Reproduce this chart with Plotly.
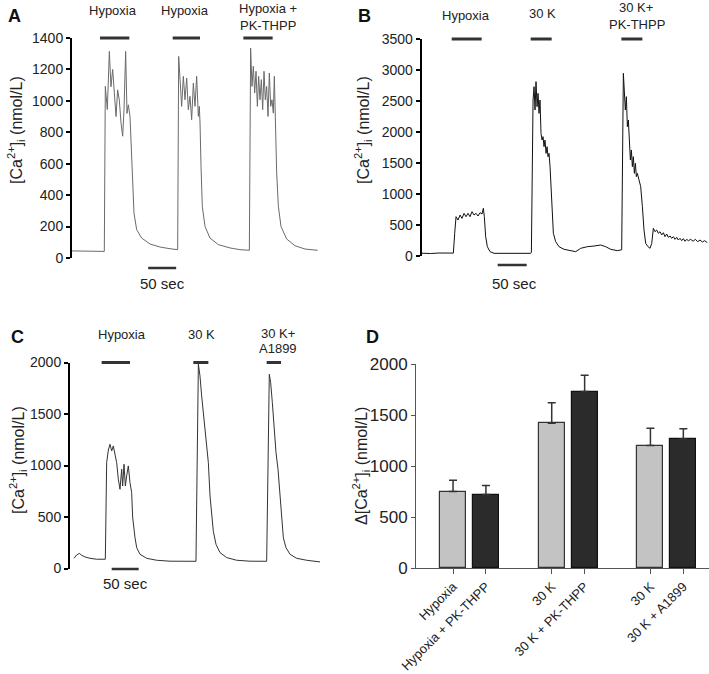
import plotly.graph_objects as go

# ---------------- data ----------------
# Panel A: time (s) and [Ca2+]i (nmol/L)
A_time = [0, 15, 30, 45, 57.7, 59.5, 63.1, 66.7, 69.6, 72.6, 75.6, 78.6, 81.5, 84.5, 87.5, 90.5, 92.9, 95.8,
          98.2, 100.6, 103.6, 105.4, 107.7, 110.7, 115.5, 124.4, 139.3, 157.1, 175, 188.7,
          190.5, 192.9, 195.8, 198.8, 201.8, 204.8, 207.7, 210.7, 213.7, 216.7, 219.6, 222.6, 225.6, 227.4,
          228.6, 230.4, 232.7, 237.5, 246.4, 261.3, 282.1, 300, 316.7,
          319, 321.4, 323.8, 326.2, 328.6, 331, 333.3, 335.7, 338.1, 340.5, 342.9, 345.2, 347.6, 350, 352.4,
          354.8, 357.1, 359.5, 361.3, 363.1, 365.5, 368.5, 373.2, 383.3, 398.2, 416.1, 438.7]
A_ca = [45, 44, 46, 43, 42, 1092, 945, 1315, 1090, 1200, 1050, 900, 1070, 1005, 860, 775, 945, 1315,
        920, 975, 900, 750, 477, 286, 180, 127, 89, 70, 59, 53,
        1283, 1113, 965, 1156, 1007, 1145, 944, 1029, 880, 1113, 965, 1156, 901, 965,
        859, 583, 329, 201, 127, 85, 64, 53, 49,
        1336, 1092, 1220, 1050, 1188, 965, 1156, 1007, 1135, 944, 1188, 1007, 1092, 901, 1177,
        965, 1007, 922, 1156, 795, 541, 329, 201, 121, 78, 57, 49]
A_stim_on = [50, 179.8, 306]
A_stim_off = [102.4, 228.6, 358.3]
A_yticks = [0, 200, 400, 600, 800, 1000, 1200, 1400]

# Panel B
B_time = [0, 15, 30, 45, 54.6, 56.9, 59.2, 62.6, 66.1, 69.5, 73, 76.4, 79.9, 83.3, 86.8, 90.2, 93.7, 97.1,
          100.6, 104, 106.3, 108, 110.3, 113.2, 117.8, 124.7, 142, 159.2, 175, 187.9,
          189.1, 192, 193.7, 195.4, 197.1, 198.9, 200.6, 202.3, 204, 205.7, 207.5, 209.2, 210.9, 212.6,
          214.4, 216.1, 217.8, 219.5, 221.3, 223, 224.7, 227, 231, 236.8, 245.4, 256.9, 265.5,
          274.1, 285.6, 297.1, 308.6, 317.2, 325.9, 337.4, 343.1,
          344.8, 347.7, 349.4, 351.1, 352.9, 354.6, 356.3, 358, 359.8, 361.5, 363.2, 364.9, 366.7, 368.4,
          370.1, 371.8, 374.7, 377.6, 380.5, 383.3, 386.2, 390.2, 393.7, 396.6, 399.4, 402.3, 405.2, 408,
          410.9, 413.8, 416.7, 419.5, 422.4, 425.3, 428.2, 431, 433.9, 436.8, 439.7, 442.5, 445.4, 448.3,
          451.1, 454, 456.9, 459.8, 463.8, 467.8, 471.8, 475.9, 479.9, 483.9, 487.9, 492.5]
B_ca = [45, 40, 48, 42, 47, 366, 634, 580, 661, 607, 688, 634, 688, 634, 715, 661, 688, 645,
        699, 677, 769, 634, 312, 150, 70, 43, 45, 50, 42, 43,
        60, 2516, 2731, 2355, 2812, 2408, 2623, 2301, 2516, 1978, 1871, 1925, 1763, 1871,
        1656, 1763, 1602, 1656, 1441, 1118, 634, 366, 231, 150, 108, 86, 70,
        124, 150, 161, 177, 150, 108, 86, 97,
        100, 2946, 2704, 2355, 2570, 2086, 2193, 1817, 1548, 1710, 1441, 1602, 1333, 1495,
        1280, 1333, 1226, 1118, 796, 419, 204, 150, 124, 204, 446, 392, 419, 366,
        392, 339, 376, 312, 355, 301, 323, 285, 312, 269, 301, 258, 285, 247,
        280, 237, 269, 247, 269, 237, 269, 231, 258, 226, 247, 215]
B_stim_on = [51.7, 187.9, 344.3]
B_stim_off = [103.4, 224.1, 380.5]
B_yticks = [0, 500, 1000, 1500, 2000, 2500, 3000, 3500]

# Panel C
C_time = [7.4, 12.3, 17.3, 21.6, 27.8, 37, 49.4, 64.2, 65.4, 67.9, 71, 74.1, 77.2, 80.2, 83.3, 86.4, 89.5,
          92.6, 95.7, 97.5, 100, 102.5, 104.9, 108, 111.1, 114.2, 116, 118, 120.4, 123.5, 129.6, 142,
          160.5, 185.2, 209.9, 232.1, 233.3, 237.7, 240.7, 243.8, 246.9, 250, 253.1, 256.2, 259.3,
          262.3, 265.4, 270.4, 277.8, 290.1, 308.6, 333.3, 363, 364.2, 369.1, 371.6, 374.7, 377.8,
          381.5, 385.2, 388.9, 392, 395.1, 400, 407.4, 419.8, 438.3, 463]
C_ca = [99, 131, 147, 128, 112, 99, 90, 87, 90, 1028, 1150, 1206, 1141, 1190, 1093, 1028, 866,
        769, 964, 801, 1012, 801, 899, 996, 834, 737, 500, 379, 298, 202, 138, 99,
        80, 71, 67, 64, 70, 1984, 1870, 1676, 1514, 1351, 1222, 1028, 704,
        522, 362, 234, 154, 106, 80, 71, 64, 70, 1886, 1805, 1611, 1384,
        1125, 964, 704, 458, 298, 202, 138, 99, 80, 64]
C_stim_on = [58.6, 228.4, 364.2]
C_stim_off = [111.1, 256.2, 390.7]
C_yticks = [0, 500, 1000, 1500, 2000]

# Panel D
D_labels = ["Hypoxia", "Hypoxia + PK-THPP", "30 K", "30 K + PK-THPP", "30 K", "30 K + A1899"]
D_pos = [0, 1, 3, 4, 6, 7]
D_mean = [750, 720, 1420, 1730, 1200, 1265]
D_err = [110, 90, 200, 160, 170, 100]
D_yticks = [0, 500, 1000, 1500, 2000]

SCALE_SEC = 50

# ---------------- helpers ----------------
W, H = 709, 674
def fx(p):
    return p / W
def fy(p):
    return 1 - p / H

FONT = "Liberation Sans, Arial, sans-serif"
fig = go.Figure()

def trace(t, v, xa, ya, color):
    fig.add_trace(go.Scatter(x=t, y=v, mode="lines", xaxis=xa, yaxis=ya,
                             line=dict(color=color, width=1), showlegend=False, hoverinfo="skip"))

trace(A_time, A_ca, "x", "y", "#6a6a6a")
trace(B_time, B_ca, "x2", "y2", "#111111")
trace(C_time, C_ca, "x3", "y3", "#333333")

# bar chart D
ctrl_x = [D_pos[i] for i in (0, 2, 4)]
trt_x = [D_pos[i] for i in (1, 3, 5)]
fig.add_trace(go.Bar(x=ctrl_x, y=[D_mean[i] for i in (0, 2, 4)], width=0.79,
                     marker=dict(color="#c3c3c3", line=dict(color="#333333", width=1.2)),
                     error_y=dict(type="data", symmetric=False, array=[D_err[i] for i in (0, 2, 4)],
                                  arrayminus=[0, 0, 0], color="#333333", thickness=1.5, width=4),
                     xaxis="x4", yaxis="y4", showlegend=False, hoverinfo="skip"))
fig.add_trace(go.Bar(x=trt_x, y=[D_mean[i] for i in (1, 3, 5)], width=0.79,
                     marker=dict(color="#2b2b2b", line=dict(color="#111111", width=1.2)),
                     error_y=dict(type="data", symmetric=False, array=[D_err[i] for i in (1, 3, 5)],
                                  arrayminus=[0, 0, 0], color="#333333", thickness=1.5, width=4),
                     xaxis="x4", yaxis="y4", showlegend=False, hoverinfo="skip"))

def trace_yaxis(dom_b, dom_t, rng, ticks, anchor):
    return dict(domain=[fy(dom_b), fy(dom_t)], range=rng, anchor=anchor, showline=True,
                linewidth=2, linecolor="black", ticks="outside", ticklen=4, tickwidth=2,
                tickcolor="black", tickvals=ticks, tickfont=dict(size=14, color="#222", family=FONT),
                showgrid=False, zeroline=False, fixedrange=True, automargin=False)

def hidden_x(dom_l, dom_r, rng, anchor):
    return dict(domain=[fx(dom_l), fx(dom_r)], range=rng, anchor=anchor, visible=False,
                showgrid=False, zeroline=False, fixedrange=True, automargin=False)

layout = dict(
    width=W, height=H, margin=dict(l=0, r=0, t=0, b=0, autoexpand=False),
    paper_bgcolor="white", plot_bgcolor="white", bargap=0,
    xaxis=hidden_x(72, 72 + 440 * 0.56, [0, 440], "y"),
    yaxis=trace_yaxis(258, 38, [0, 1400], A_yticks, "x"),
    xaxis2=hidden_x(421.7, 421.7 + 493 * 0.58, [0, 493], "y2"),
    yaxis2=trace_yaxis(256, 39, [0, 3500], B_yticks, "x2"),
    xaxis3=hidden_x(70, 70 + 465 * 0.54, [0, 465], "y3"),
    yaxis3=trace_yaxis(568.5, 362.5, [0, 2000], C_yticks, "x3"),
    xaxis4=dict(domain=[fx(416), fx(709)], range=[-1.125, 7.78], anchor="y4", showline=True,
                linewidth=1, linecolor="#555", ticks="outside", ticklen=5, tickcolor="#555",
                tickvals=D_pos, ticktext=D_labels, tickangle=-45,
                tickfont=dict(size=13, color="#222", family=FONT), showgrid=False, zeroline=False,
                fixedrange=True, automargin=False),
    yaxis4=dict(domain=[fy(568), fy(364)], range=[0, 2000], anchor="x4", showline=True,
                linewidth=1, linecolor="#555", ticks="outside", ticklen=4, tickcolor="#555",
                tickvals=D_yticks, tickfont=dict(size=17, color="#222", family=FONT),
                showgrid=False, zeroline=False, fixedrange=True, automargin=False),
)

shapes = []
def stim(on, off, xa, ya):
    for a, b in zip(on, off):
        shapes.append(dict(type="line", xref=xa, yref=ya + " domain", x0=a, x1=b, y0=1, y1=1,
                           line=dict(color="#333333", width=3)))
stim(A_stim_on, A_stim_off, "x", "y")
stim(B_stim_on, B_stim_off, "x2", "y2")
stim(C_stim_on, C_stim_off, "x3", "y3")

def scalebar(start, xa, py):
    shapes.append(dict(type="line", xref=xa, yref="paper", x0=start, x1=start + SCALE_SEC,
                       y0=fy(py), y1=fy(py), line=dict(color="#333333", width=2.5)))
scalebar(136, "x", 268)
scalebar(131, "x2", 265)
scalebar(77.2, "x3", 569)
layout["shapes"] = shapes

anns = []
def ann(text, x, y, size=13, bold=False, angle=0, color="#222"):
    anns.append(dict(text=("<b>%s</b>" % text) if bold else text, x=fx(x), y=fy(y), xref="paper",
                     yref="paper", showarrow=False, textangle=angle, xanchor="center", yanchor="middle",
                     font=dict(size=size, color=color, family=FONT)))

# panel letters
ann("A", 15, 16, 18, True, color="#111")
ann("B", 364, 16, 18, True, color="#111")
ann("C", 17, 337, 18, True, color="#111")
ann("D", 372, 337, 18, True, color="#111")

# stimulus labels
ann("Hypoxia", 113, 11)
ann("Hypoxia", 185, 11)
ann("Hypoxia +", 268, 9)
ann("PK-THPP", 268, 25)
ann("Hypoxia", 466, 15)
ann("30 K", 542, 13)
ann("30 K+", 636, 8)
ann("PK-THPP", 637, 24)
ann("Hypoxia", 122, 334)
ann("30 K", 201, 334)
ann("30 K+", 278, 333)
ann("A1899", 278, 349)

# scale bar labels
ann("50 sec", 162, 283, 15)
ann("50 sec", 514, 283, 15)
ann("50 sec", 125, 583, 15)

# y titles
ca = "[Ca<sup>2+</sup>]<sub>i</sub> (nmol/L)"
ann(ca, 16, 130, 16, angle=-90)
ann(ca, 363, 130, 16, angle=-90)
ann(ca, 18, 460, 16, angle=-90)
ann("\u0394" + ca, 361, 466, 16, angle=-90)

layout["annotations"] = anns
fig.update_layout(**layout)
fig.write_html("out.html", config={"displayModeBar": False},
               post_script="document.body.style.margin='0';document.body.style.overflow='hidden';")
